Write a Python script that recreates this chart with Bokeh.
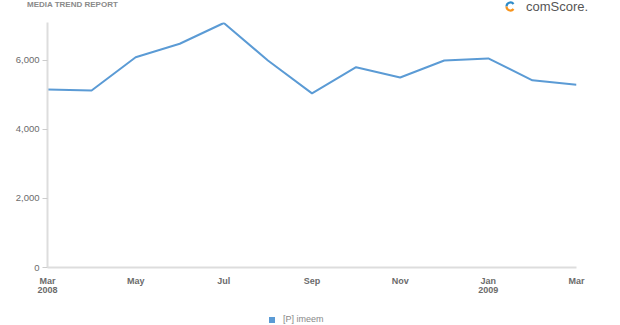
from bokeh.plotting import figure
from bokeh.layouts import column
from bokeh.models import (ColumnDataSource, FixedTicker, NumeralTickFormatter,
                          Range1d, Div)
from bokeh.embed import file_html
from bokeh.resources import INLINE

months = ["Mar 2008", "Apr", "May", "Jun", "Jul", "Aug", "Sep", "Oct", "Nov",
          "Dec", "Jan 2009", "Feb", "Mar 2009"]
visitors = [5160, 5130, 6095, 6485, 7085, 6000, 5045, 5805, 5505, 6000, 6058,
            5425, 5298]
tick_labels = {0: "Mar\n2008", 2: "May", 4: "Jul", 6: "Sep", 8: "Nov",
               10: "Jan\n2009", 12: "Mar"}
y_ticks = [0, 2000, 4000, 6000]
series_name = "[P] imeem"
title_text = "MEDIA TREND REPORT"
logo_text = "comScore."

LINE = "#5B9BD5"
GREY = "#6b6b6b"
FONT = "Liberation Sans"

header_html = f"""
<div style="position:relative;width:620px;height:20px;font-family:'Liberation Sans',Arial,sans-serif;">
  <span style="position:absolute;left:27px;top:0px;font-size:8px;line-height:9px;font-weight:bold;color:#8a8a8a;white-space:nowrap;">{title_text}</span>
  <svg style="position:absolute;left:505px;top:1px;" width="11" height="11" viewBox="0 0 11 11">
    <path d="M 8.56 2.93 A 4 4 0 0 0 1.5 5.5" fill="none" stroke="#2E8BC9" stroke-width="2.2"/>
    <path d="M 1.5 5.5 A 4 4 0 0 0 8.56 8.07" fill="none" stroke="#F7941D" stroke-width="2.2"/>
  </svg>
  <span style="position:absolute;left:526px;top:0px;font-size:13px;line-height:14px;color:#555555;white-space:nowrap;">{logo_text}</span>
</div>
"""
header = Div(text=header_html, width=620, height=20, margin=0)

legend_html = f"""
<div style="position:relative;width:620px;height:22px;font-family:'Liberation Sans',Arial,sans-serif;">
  <span style="position:absolute;left:269px;top:14px;width:6px;height:6px;background:{LINE};"></span>
  <span style="position:absolute;left:283px;top:11px;font-size:9px;line-height:11px;color:#888888;white-space:nowrap;">{series_name}</span>
</div>
"""
legend_div = Div(text=legend_html, width=620, height=22, margin=0)

src = ColumnDataSource(dict(x=list(range(len(months))), y=visitors))

p = figure(width=620, height=283, output_backend="svg", toolbar_location=None,
           x_range=Range1d(0, len(months) - 1), y_range=Range1d(0, 7100),
           min_border_left=47, min_border_right=44, min_border_top=2,
           min_border_bottom=36)
p.outline_line_color = None
p.grid.visible = False

p.line("x", "y", source=src, line_color=LINE, line_width=2)

p.yaxis.ticker = FixedTicker(ticks=y_ticks)
p.yaxis.formatter = NumeralTickFormatter(format="0,0")
p.yaxis.axis_line_color = "#dddddd"
p.yaxis.axis_line_width = 2
p.yaxis.major_tick_line_color = "#cccccc"
p.yaxis.major_tick_out = 5
p.yaxis.major_tick_in = 0
p.yaxis.minor_tick_line_color = None
p.yaxis.major_label_text_font = FONT
p.yaxis.major_label_text_font_size = "9.5px"
p.yaxis.major_label_text_color = GREY
p.yaxis.major_label_standoff = 3

p.xaxis.ticker = FixedTicker(ticks=list(tick_labels.keys()))
p.xaxis.major_label_overrides = tick_labels
p.xaxis.axis_line_color = "#dddddd"
p.xaxis.axis_line_width = 2
p.xaxis.major_tick_line_color = None
p.xaxis.minor_tick_line_color = None
p.xaxis.major_label_text_font = FONT
p.xaxis.major_label_text_font_size = "9px"
p.xaxis.major_label_text_font_style = "bold"
p.xaxis.major_label_text_color = GREY
p.xaxis.major_label_text_line_height = 0.95
p.xaxis.major_label_standoff = 2

layout = column(header, p, legend_div, spacing=0)
open("out.html", "w").write(file_html(layout, INLINE))
